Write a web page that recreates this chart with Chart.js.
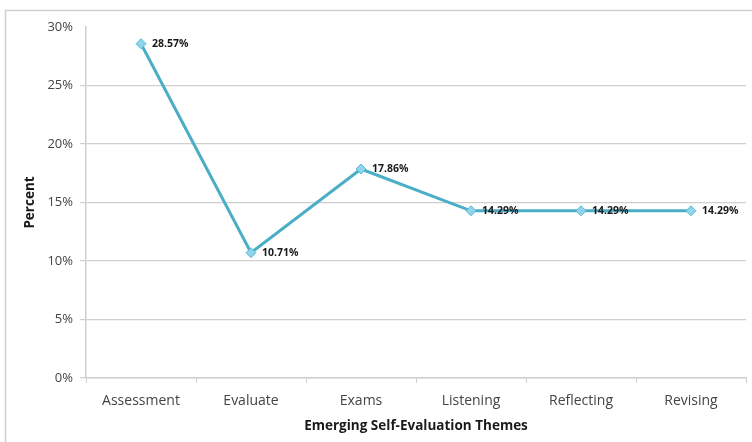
<!DOCTYPE html>
<html>
<head>
<meta charset="utf-8">
<script src="https://cdn.jsdelivr.net/npm/chart.js@4/dist/chart.umd.min.js"></script>
<style>
  html, body { margin: 0; padding: 0; background: #fff; }
  #wrap { width: 752px; height: 442px; }
</style>
</head>
<body>
<div id="wrap"><canvas id="c" width="752" height="442"></canvas></div>
<script>
  var themes = ['Assessment', 'Evaluate', 'Exams', 'Listening', 'Reflecting', 'Revising'];
  var percents = [28.57, 10.71, 17.86, 14.29, 14.29, 14.29];
  var yTicks = [0, 5, 10, 15, 20, 25, 30];

  var FONT = '"Open Sans", "Liberation Sans", sans-serif';

  // frame around the whole figure
  var framePlugin = {
    id: 'frame',
    beforeDraw: function (chart) {
      var ctx = chart.ctx;
      ctx.save();
      ctx.strokeStyle = '#d0d0d0';
      ctx.lineWidth = 1.5;
      ctx.strokeRect(5.5, 10.5, 760, 440);
      ctx.restore();
    }
  };

  // value labels to the right of each point
  var labelPlugin = {
    id: 'valueLabels',
    afterDatasetsDraw: function (chart) {
      var ctx = chart.ctx;
      var meta = chart.getDatasetMeta(0);
      ctx.save();
      ctx.font = 'bold 10.5px ' + FONT;
      ctx.fillStyle = '#1a1a1a';
      ctx.textAlign = 'left';
      ctx.textBaseline = 'middle';
      meta.data.forEach(function (pt, i) {
        ctx.fillText(percents[i].toFixed(2) + '%', pt.x + 11, pt.y);
      });
      ctx.restore();
    }
  };

  new Chart(document.getElementById('c').getContext('2d'), {
    type: 'line',
    data: {
      labels: themes,
      datasets: [{
        data: percents,
        borderColor: '#4aaec6',
        borderWidth: 3,
        tension: 0,
        pointStyle: 'rectRot',
        pointRadius: 5,
        pointBackgroundColor: '#8fd4ea',
        pointBorderColor: '#5bb8d2',
        pointBorderWidth: 1
      }]
    },
    options: {
      responsive: false,
      animation: false,
      layout: { padding: { left: 6, top: 27, right: 6, bottom: 4 } },
      plugins: { legend: { display: false }, tooltip: { enabled: false } },
      scales: {
        x: {
          offset: true,
          grid: { display: true, offset: true, drawOnChartArea: false, drawTicks: true, tickLength: 5, color: '#cfcfcf' },
          border: { color: '#cfcfcf', width: 1.5 },
          ticks: { color: '#444', font: { family: FONT, size: 14 }, padding: 10 },
          title: { display: true, text: 'Emerging Self-Evaluation Themes', color: '#1a1a1a', font: { family: FONT, size: 13.5, weight: 'bold' }, padding: { top: 0 } },
          afterFit: function (s) { s.height = 60; }
        },
        y: {
          min: 0,
          max: 30,
          afterBuildTicks: function (s) { s.ticks = yTicks.map(function (v) { return { value: v }; }); },
          grid: {
            color: function (c) { return c.tick && c.tick.value === 30 ? 'rgba(0,0,0,0)' : '#cfcfcf'; },
            lineWidth: 1.2,
            tickLength: 6
          },
          border: { color: '#cfcfcf', width: 1.5 },
          ticks: { color: '#444', font: { family: FONT, size: 13 }, padding: 7, callback: function (v) { return v + '%'; } },
          title: { display: true, text: 'Percent', color: '#1a1a1a', font: { family: FONT, size: 13.5, weight: 'bold' }, padding: { top: 16, bottom: 0 } },
          afterFit: function (s) { s.width = 80; }
        }
      }
    },
    plugins: [framePlugin, labelPlugin]
  });
</script>
</body>
</html>
